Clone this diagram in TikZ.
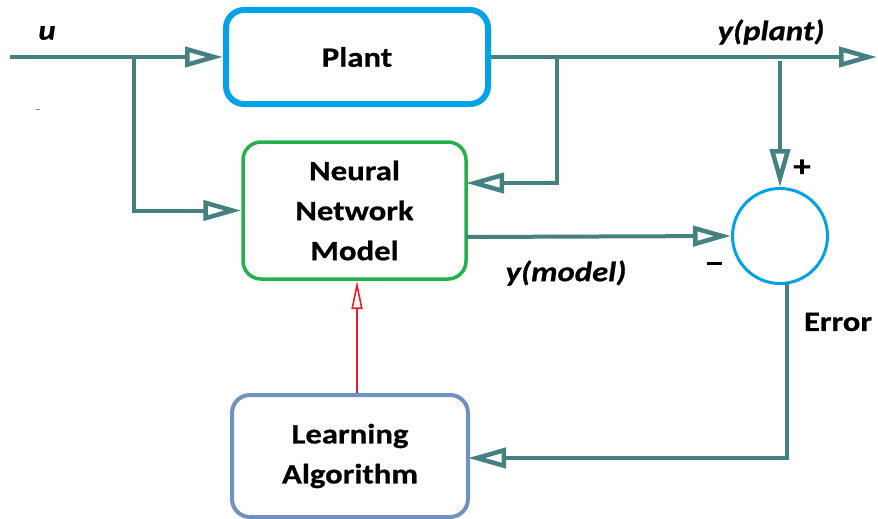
\documentclass[tikz,border=0pt]{standalone}
\usepackage{fontspec}
\setmainfont{Carlito}[FakeStretch=1.17, FakeBold=0.6]
\usetikzlibrary{arrows.meta}
\definecolor{teal}{RGB}{70,128,128}
\definecolor{plantblue}{RGB}{0,162,232}
\definecolor{nngreen}{RGB}{34,177,76}
\definecolor{learnblue}{RGB}{112,146,190}
\definecolor{redline}{RGB}{237,28,36}
\tikzset{
  blk/.style={draw, rounded corners=18pt, align=center, font=\fontsize{28}{40}\selectfont\bfseries, inner sep=0pt},
  conn/.style={draw=teal, line width=4pt, -{Triangle[open, length=38pt, width=20pt, line width=4.5pt]}},
  lbl/.style={font=\fontsize{28}{32}\selectfont\bfseries\itshape, inner sep=0pt},
  lblu/.style={font=\fontsize{28}{32}\selectfont\bfseries, inner sep=0pt}
}
\begin{document}
\begin{tikzpicture}[x=1pt,y=-1pt]
\useasboundingbox[fill=white] (0,0) rectangle (878,519);
% blocks
\node[blk, draw=plantblue, line width=6pt, minimum width=262pt, minimum height=94pt] (plant) at (357,57) {Plant};
\node[blk, draw=nngreen, line width=3.5pt, minimum width=223pt, minimum height=137pt] (nn) at (354.5,210.5) {Neural\\Network\\Model};
\node[blk, draw=learnblue, line width=4pt, minimum width=236pt, minimum height=122pt] (learn) at (350,456) {Learning\\Algorithm};
\node[draw=plantblue, line width=3pt, circle, minimum size=95pt, inner sep=0pt] (sum) at (780,236) {};
% coordinates
\coordinate (in) at (10,57);
\coordinate (b1) at (134,57);
\coordinate (b2) at (557,57);
\coordinate (out) at (877,57);
\coordinate (nnR) at (466,183);
\coordinate (tap) at (780,61);
\coordinate (nnout) at (466,237);
\coordinate (errtop) at (787,283);
\coordinate (errc) at (787,458);
\coordinate (learnR) at (468,458);
\coordinate (redtop) at (357,281);
\coordinate (redbot) at (357,393);
% connectors
\draw[conn] (in) -- (plant.west);
\draw[conn] (b1) |- (nn.west);
\draw[conn] (plant.east) -- (out);
\draw[conn] (b2) |- (nnR);
\draw[conn] (tap) -- (sum.north);
\draw[conn] (nnout) -- (sum.west);
\draw[conn] (errtop) -- (errc) -- (learnR);
\draw[draw=redline, line width=1.4pt, -{Triangle[open, length=28pt, width=11pt, line width=1.6pt]}] (redbot) -- (redtop);
% labels
\node[lbl] (u) at (47,33) {u};
\node[font=\fontsize{12}{12}\selectfont, text=gray] (dash) at (38,111) {-};
\node[lbl] (yplant) at (771,32) {y(plant)};
\node[lblu, font=\fontsize{30}{30}\selectfont\bfseries] (plus) at (802,168) {+};
\node[inner sep=0pt] (minus) at (714,263) {\rule{15pt}{3pt}};
\node[lbl] (ymodel) at (566,273) {y(model)};
\node[lblu] (error) at (838,322) {Error};
\end{tikzpicture}
\end{document}
